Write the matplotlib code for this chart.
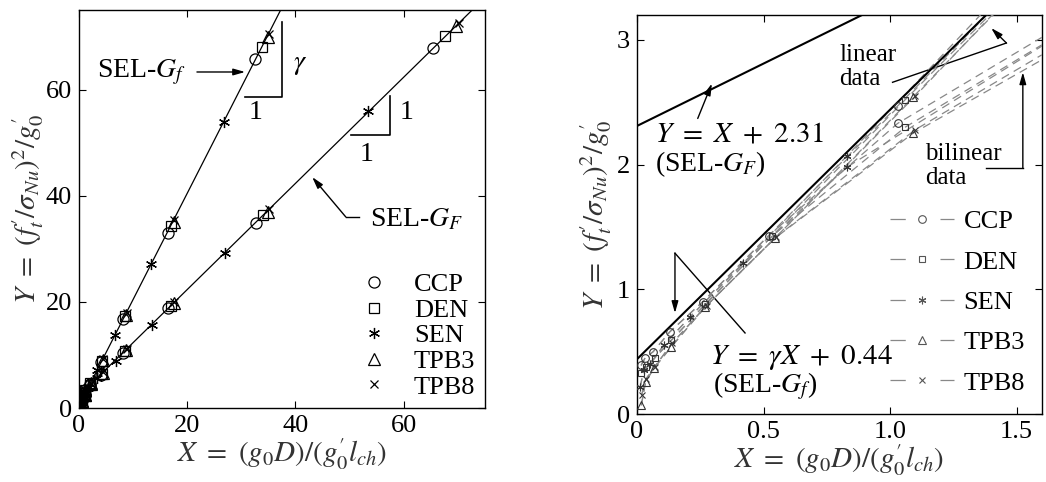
import matplotlib
matplotlib.use("Agg")
import matplotlib.pyplot as plt
import numpy as np
from matplotlib.lines import Line2D

plt.rcParams['font.family'] = ['Liberation Serif', 'DejaVu Serif']
plt.rcParams['mathtext.fontset'] = 'stix'
plt.rcParams['lines.scale_dashes'] = False

# ---- data -------------------------------------------------------------
series = ['CCP', 'DEN', 'SEN', 'TPB3', 'TPB8']

# SEL fit lines quoted in the chart
gamma = 2.0
icpt_f = 0.44   # Y = gamma X + 0.44  (SEL-Gf)
icpt_F = 2.31   # Y = X + 2.31        (SEL-GF)

# left panel, points on SEL-Gf line
ccp_xf = [32.6, 16.4, 8.2, 4.1, 2.05, 1.03, 0.52, 0.26]
ccp_yf = [65.7, 33.0, 16.7, 8.7, 4.6, 2.47, 1.43, 0.90]
den_xf = [33.8, 17.0, 8.5, 4.25, 2.12, 1.06, 0.535, 0.27]
den_yf = [68.1, 34.3, 17.4, 8.9, 4.7, 2.52, 1.43, 0.88]
sen_xf = [26.8, 13.4, 6.7, 3.35, 1.67, 0.83, 0.42, 0.21]
sen_yf = [53.8, 27.2, 13.8, 7.1, 3.8, 2.07, 1.21, 0.78]
tpb3_xf = [34.9, 17.5, 8.7, 4.35, 2.18, 1.09, 0.545, 0.27]
tpb3_yf = [69.8, 35.1, 17.6, 9.0, 4.7, 2.54, 1.41, 0.86]
tpb8_xf = [35.2, 17.6, 8.8, 4.4, 2.2, 1.1, 0.55, 0.275]
tpb8_yf = [70.5, 35.4, 17.9, 9.2, 4.8, 2.55, 1.42, 0.87]

# left panel, points on SEL-GF line
ccp_xF = [65.5, 32.8, 16.4, 8.2, 4.1, 2.05, 1.03, 0.52]
ccp_yF = [67.9, 34.9, 18.8, 10.4, 6.3, 4.3, 3.3, 2.8]
den_xF = [67.6, 34.1, 17.0, 8.5, 4.25, 2.12, 1.06, 0.53]
den_yF = [70.0, 36.3, 19.3, 10.7, 6.5, 4.4, 3.4, 2.8]
sen_xF = [53.5, 26.9, 13.5, 6.8, 3.4, 1.7, 0.85, 0.42]
sen_yF = [55.9, 29.2, 15.7, 8.8, 5.6, 3.9, 3.1, 2.7]
tpb3_xF = [69.6, 34.9, 17.5, 8.7, 4.35, 2.18, 1.09, 0.54]
tpb3_yF = [71.9, 37.0, 19.7, 10.9, 6.6, 4.5, 3.4, 2.8]
tpb8_xF = [70.3, 35.2, 17.6, 8.8, 4.4, 2.2, 1.1, 0.55]
tpb8_yF = [72.6, 37.4, 19.9, 11.1, 6.7, 4.5, 3.4, 2.9]

# right panel (zoom near origin), linear data
ccp_x = [0.016, 0.032, 0.064, 0.13, 0.26, 0.52, 1.03]
ccp_y = [0.39, 0.45, 0.50, 0.66, 0.90, 1.43, 2.47]
den_x = [0.017, 0.035, 0.07, 0.135, 0.27, 0.535, 1.06]
den_y = [0.33, 0.38, 0.45, 0.59, 0.88, 1.43, 2.52]
sen_x = [0.013, 0.026, 0.052, 0.105, 0.21, 0.42, 0.83]
sen_y = [0.22, 0.35, 0.40, 0.55, 0.78, 1.21, 2.07]
tpb3_x = [0.017, 0.034, 0.068, 0.136, 0.27, 0.545, 1.09]
tpb3_y = [0.07, 0.26, 0.37, 0.54, 0.86, 1.41, 2.54]
tpb8_x = [0.018, 0.035, 0.07, 0.14, 0.275, 0.55, 1.1]
tpb8_y = [0.15, 0.28, 0.38, 0.57, 0.87, 1.42, 2.55]
# last point of bilinear data (same x as last linear point)
bil_last_y = [2.33, 2.30, 1.98, 2.25, 2.28]
# where the dashed fits leave the frame at X = 1.6
lin_end_y = [3.65, 3.62, 3.72, 3.60, 3.62]
bil_end_y = [3.02, 2.96, 2.95, 2.84, 2.88]

left_f = [(ccp_xf, ccp_yf), (den_xf, den_yf), (sen_xf, sen_yf), (tpb3_xf, tpb3_yf), (tpb8_xf, tpb8_yf)]
left_F = [(ccp_xF, ccp_yF), (den_xF, den_yF), (sen_xF, sen_yF), (tpb3_xF, tpb3_yF), (tpb8_xF, tpb8_yF)]
right_d = [(ccp_x, ccp_y), (den_x, den_y), (sen_x, sen_y), (tpb3_x, tpb3_y), (tpb8_x, tpb8_y)]

markers = ['o', 's', (6, 2, 0), '^', 'x']
msize_l = [8, 6.5, 8, 8, 5.5]
msize_r = [5.5, 5, 5.5, 5.5, 4.5]

xlabel = r"$X\ =\ (g_0 D)/(g^{\prime}_0 l_{ch})$"
ylabel = r"$Y\ =\ (f^{\prime}_t/\sigma_{Nu})^2/g^{\prime}_0$"

# ---- figure -----------------------------------------------------------
fig = plt.figure(figsize=(10.46, 4.82), dpi=100)
axL = fig.add_axes([0.0755, 0.1535, 0.388, 0.826])
axR = fig.add_axes([0.609, 0.141, 0.387, 0.828])

for ax in (axL, axR):
    ax.tick_params(direction='in', top=True, right=True, labelsize=19, length=5, width=0.8, pad=5)
    for s in ax.spines.values():
        s.set_linewidth(1.0)

# left panel
xx = np.linspace(0, 75, 50)
axL.plot(xx, gamma * xx + icpt_f, color='black', lw=0.9, zorder=2)
axL.plot(xx, xx + icpt_F, color='black', lw=0.9, zorder=2)
for i, name in enumerate(series):
    for (x, y) in (left_f[i], left_F[i], right_d[i]):
        axL.plot(x, y, linestyle='none', marker=markers[i], ms=msize_l[i], mfc='none',
                 mec='black', mew=0.9, zorder=3)

axL.set_xlim(0, 75)
axL.set_ylim(0, 75)
axL.set_xticks([0, 20, 40, 60])
axL.set_yticks([0, 20, 40, 60])
axL.set_xlabel(xlabel, fontsize=21, color='#333333', labelpad=0)
axL.set_ylabel(ylabel, fontsize=21, color='#333333', labelpad=0)

handles = [Line2D([], [], linestyle='none', marker=markers[i], ms=msize_l[i], mfc='none',
                  mec='black', mew=0.9) for i in range(5)]
axL.legend(handles, series, loc='upper left', bbox_to_anchor=(0.663, 0.373), frameon=False,
           fontsize=19, handlelength=1.0, handletextpad=1.0, labelspacing=0.08, borderpad=0)

# slope triangles and labels (left)
axL.plot([30.7, 37.6, 37.6], [58.6, 58.6, 72.8], color='black', lw=1.2)
axL.plot([50.2, 57.4, 57.4], [51.4, 51.4, 58.8], color='black', lw=1.2)
axL.text(40.9, 64.7, r"$\gamma$", fontsize=20, ha='center', va='center')
axL.text(32.6, 55.6, "1", fontsize=20, ha='center', va='center')
axL.text(60.6, 55.6, "1", fontsize=20, ha='center', va='center')
axL.text(53.1, 47.7, "1", fontsize=20, ha='center', va='center')

arrow = dict(arrowstyle='-|>,head_length=0.7,head_width=0.2', color='black', lw=1.0,
             shrinkA=0, shrinkB=0)
axL.text(3.3, 63.3, r"SEL-$G_f$", fontsize=20, ha='left', va='center')
axL.annotate("", xy=(30.7, 63.3), xytext=(21.8, 63.3), arrowprops=arrow)
axL.text(53.7, 35.4, r"SEL-$G_F$", fontsize=20, ha='left', va='center')
axL.plot([51.7, 49.3], [36.0, 36.0], color='black', lw=1.0)
axL.annotate("", xy=(43.1, 43.5), xytext=(49.3, 36.0), arrowprops=arrow)

# right panel
xr = np.linspace(0, 1.6, 50)
axR.plot(xr, xr + icpt_F, color='black', lw=1.5, zorder=4)
axR.plot(xr, gamma * xr + icpt_f, color='black', lw=1.5, zorder=4)
gray = '#888888'
for i, name in enumerate(series):
    x, y = right_d[i]
    # linear data and its extension
    axR.plot(list(x) + [1.6], list(y) + [lin_end_y[i]], color=gray, lw=0.9,
             dashes=(6, 4), zorder=3)
    # bilinear data: shares points up to the kink, then bends
    axR.plot(list(x[:-1]) + [x[-1], 1.6], list(y[:-1]) + [bil_last_y[i], bil_end_y[i]],
             color=gray, lw=0.9, dashes=(6, 4), zorder=3)
    axR.plot(list(x) + [x[-1]], list(y) + [bil_last_y[i]], linestyle='none',
             marker=markers[i], ms=msize_r[i], mfc='none', mec='#333333', mew=0.8, zorder=5)

axR.set_xlim(0, 1.6)
axR.set_ylim(0, 3.2)
axR.set_xticks([0, 0.5, 1.0, 1.5])
axR.set_xticklabels(['0', '0.5', '1.0', '1.5'])
axR.set_yticks([0, 1, 2, 3])
axR.set_xlabel(xlabel, fontsize=21, color='#333333', labelpad=0)
axR.set_ylabel(ylabel, fontsize=21, color='#333333', labelpad=2)

handles = [Line2D([], [], color=gray, lw=0.9, dashes=(11, 25), marker=markers[i],
                  ms=msize_r[i], mfc='none', mec='#555555', mew=0.8) for i in range(5)]
axR.legend(handles, series, loc='upper left', bbox_to_anchor=(0.593, 0.545), frameon=False,
           fontsize=19, handlelength=2.4, handletextpad=0.38, labelspacing=0.64, borderpad=0)

axR.text(0.07, 2.24, r"$Y\ =\ X\ +\ 2.31$", fontsize=21, ha='left', va='center')
axR.text(0.07, 2.00, r"(SEL-$G_F$)", fontsize=20, ha='left', va='center')
axR.annotate("", xy=(0.296, 2.65), xytext=(0.24, 2.37), arrowprops=arrow)

axR.text(0.80, 2.78, "linear\ndata", fontsize=18, ha='left', va='center', linespacing=1.1)
axR.plot([1.01, 1.46], [2.66, 2.975], color='black', lw=1.0)
axR.annotate("", xy=(1.40, 3.095), xytext=(1.46, 2.975), arrowprops=arrow)

axR.text(1.14, 1.99, "bilinear\ndata", fontsize=18, ha='left', va='center', linespacing=1.1)
axR.plot([1.38, 1.525], [1.97, 1.97], color='black', lw=1.0)
axR.annotate("", xy=(1.525, 2.74), xytext=(1.525, 1.97), arrowprops=arrow)

axR.text(0.29, 0.45, r"$Y\ =\ \gamma X\ +\ 0.44$", fontsize=21, ha='left', va='center')
axR.text(0.30, 0.22, r"(SEL-$G_f$)", fontsize=20, ha='left', va='center')
axR.plot([0.15, 0.427], [1.29, 0.65], color='black', lw=1.0)
axR.annotate("", xy=(0.15, 0.81), xytext=(0.15, 1.29), arrowprops=arrow)

fig.savefig("out.png", dpi=100)
